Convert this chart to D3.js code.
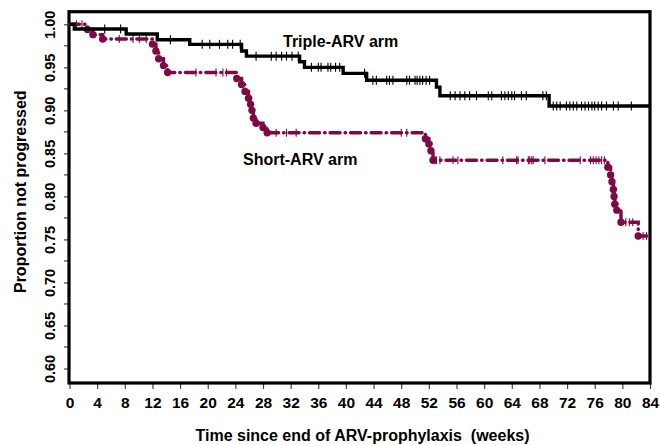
<!DOCTYPE html>
<html>
<head>
<meta charset="utf-8">
<script src="https://cdn.jsdelivr.net/npm/d3@7"></script>
<style>
  html, body { margin: 0; padding: 0; background: #fff; }
  svg { display: block; font-family: "Liberation Sans", Arial, sans-serif; font-weight: bold; }
</style>
</head>
<body>
<svg id="chart" width="660" height="445"></svg>
<script>
// Kaplan-Meier steps: time (weeks) and proportion after the step
const tripleTimes = [0, 0.7, 8.2, 12.7, 17.4, 24.9, 25.6, 33.3, 34.0, 39.6, 43.0, 53.1, 53.6, 69.4, 84];
const tripleSurv = [1.000, 0.9945, 0.9887, 0.982, 0.9767, 0.969, 0.963, 0.9565, 0.950, 0.943, 0.935, 0.927, 0.917, 0.905, 0.905];

const shortTimes = [0, 2.6, 3.4, 4.8, 12.0, 12.5, 12.9, 13.6, 14.2, 24.2, 24.9, 25.4, 25.9, 26.2, 26.4, 26.6, 27.0, 28.0, 28.6,
  51.5, 52.0, 52.3, 52.6, 77.9, 78.3, 78.5, 78.7, 78.8, 78.9, 79.2, 79.8, 82.3, 84];
const shortSurv = [1.000, 0.994, 0.988, 0.983, 0.977, 0.969, 0.960, 0.952, 0.944, 0.937, 0.930, 0.922, 0.914, 0.907, 0.900, 0.891, 0.885, 0.880, 0.874,
  0.867, 0.861, 0.853, 0.842, 0.834, 0.825, 0.817, 0.808, 0.800, 0.791, 0.784, 0.770, 0.754, 0.754];

// censored observations (weeks)
const tripleCensor = [5.1, 7.4, 14.6, 19.2, 20.3, 21.7, 22.9, 23.6, 24.7, 27.0, 29.2, 29.9, 30.7, 31.4, 32.2, 33.1, 35.0, 36.0, 36.4, 37.4,
  37.8, 38.5, 39.1, 42.7, 43.9, 44.4, 45.9, 46.3, 46.8, 48.8, 49.2, 50.0, 50.3, 50.7, 51.1, 51.6, 52.1, 55.1, 55.8, 56.5, 57.2, 57.9,
  58.9, 60.6, 61.1, 62.5, 63.0, 63.5, 64.0, 64.4, 65.4, 66.1, 68.5, 69.0, 70.0, 70.5, 71.0, 71.9, 72.4, 72.9, 73.4, 74.1, 74.6, 75.1,
  75.6, 76.0, 76.5, 77.0, 77.7, 78.7, 79.4, 81.3];
const shortCensor = [1.0, 1.8, 7.2, 9.2, 10.1, 11.1, 18.3, 21.2, 22.2, 22.7, 29.9, 31.4, 32.8, 48.0, 48.8, 52.9, 53.1, 53.6, 55.5, 56.2,
  62.7, 64.7, 64.9, 66.4, 66.6, 66.9, 67.1, 68.8, 73.9, 75.4, 75.8, 76.2, 76.6, 77.0, 77.4, 80.5, 81.0, 81.5, 83.0, 83.5];

const xTicks = d3.range(0, 85, 4);
const yTicksMajor = [0.60, 0.65, 0.70, 0.75, 0.80, 0.85, 0.90, 0.95, 1.00];
const yTicksMinor = [0.625, 0.675, 0.725, 0.775, 0.825, 0.875, 0.925, 0.975];

const maroon = "#7d0a45";

const svg = d3.select("#chart");

const x = d3.scaleLinear().domain([0, 84]).range([69.5, 650]);
const y = d3.scaleLinear().domain([0.6, 1.0]).range([368.5, 24.3]);

const plotTop = 11.7;
const plotBottom = 383;

function levelAt(times, surv, t) {
  let v = surv[0];
  for (let i = 0; i < times.length; i++) {
    if (times[i] <= t) v = surv[i];
  }
  return v;
}

function stepPoints(times, surv) {
  return times.map(function (t, i) { return [t, surv[i]]; });
}

// axes
const xAxis = svg.append("g")
  .attr("transform", `translate(0,${plotBottom})`)
  .call(d3.axisBottom(x).tickValues(xTicks).tickSize(6).tickPadding(8).tickFormat(d3.format("d")));
xAxis.select(".domain").remove();
xAxis.selectAll("line").attr("stroke", "#444").attr("stroke-width", 1.2);
xAxis.selectAll("text").attr("font-size", 15.5).attr("font-family", "Liberation Sans, Arial, sans-serif")
  .attr("font-weight", "bold").attr("fill", "#000");

const yAxis = svg.append("g")
  .attr("transform", "translate(69,0)")
  .call(d3.axisLeft(y).tickValues(yTicksMajor).tickSize(5).tickFormat(d3.format(".2f")));
yAxis.select(".domain").remove();
yAxis.selectAll("line").attr("stroke", "#444").attr("stroke-width", 1.2);
yAxis.selectAll("text")
  .attr("font-size", 14.5).attr("font-family", "Liberation Sans, Arial, sans-serif").attr("font-weight", "bold").attr("fill", "#000")
  .attr("x", null).attr("dy", null)
  .attr("text-anchor", "middle")
  .attr("transform", "translate(-14.5,0) rotate(-90)");

svg.append("g")
  .selectAll("line")
  .data(yTicksMinor)
  .enter()
  .append("line")
  .attr("x1", 64).attr("x2", 69)
  .attr("y1", function (d) { return y(d); })
  .attr("y2", function (d) { return y(d); })
  .attr("stroke", "#444").attr("stroke-width", 1.2);

// frame
svg.append("rect")
  .attr("x", 69).attr("y", plotTop)
  .attr("width", 650 - 69).attr("height", plotBottom - plotTop)
  .attr("fill", "none").attr("stroke", "#000").attr("stroke-width", 3.2);

const line = d3.line()
  .x(function (d) { return x(d[0]); })
  .y(function (d) { return y(d[1]); })
  .curve(d3.curveStepAfter);

// Short-ARV arm
svg.append("path")
  .datum(stepPoints(shortTimes, shortSurv))
  .attr("d", line)
  .attr("fill", "none")
  .attr("stroke", maroon)
  .attr("stroke-width", 3.4)
  .attr("stroke-linecap", "round")
  .attr("stroke-dasharray", "10,5,0.5,5");

svg.append("g")
  .selectAll("circle")
  .data(stepPoints(shortTimes, shortSurv).slice(1, -1))
  .enter()
  .append("circle")
  .attr("cx", function (d) { return x(d[0]); })
  .attr("cy", function (d) { return y(d[1]); })
  .attr("r", 3.7)
  .attr("fill", maroon);

svg.append("g")
  .selectAll("line")
  .data(shortCensor)
  .enter()
  .append("line")
  .attr("x1", function (d) { return x(d); })
  .attr("x2", function (d) { return x(d); })
  .attr("y1", function (d) { return y(levelAt(shortTimes, shortSurv, d)) - 4; })
  .attr("y2", function (d) { return y(levelAt(shortTimes, shortSurv, d)) + 4; })
  .attr("stroke", maroon)
  .attr("stroke-width", 1.1);

// Triple-ARV arm
svg.append("path")
  .datum(stepPoints(tripleTimes, tripleSurv))
  .attr("d", line)
  .attr("fill", "none")
  .attr("stroke", "#000")
  .attr("stroke-width", 3.4);

svg.append("g")
  .selectAll("line")
  .data(tripleCensor)
  .enter()
  .append("line")
  .attr("x1", function (d) { return x(d); })
  .attr("x2", function (d) { return x(d); })
  .attr("y1", function (d) { return y(levelAt(tripleTimes, tripleSurv, d)) - 4.5; })
  .attr("y2", function (d) { return y(levelAt(tripleTimes, tripleSurv, d)) + 4.5; })
  .attr("stroke", "#000")
  .attr("stroke-width", 1.1);

// labels
svg.append("text")
  .attr("x", 283).attr("y", 47)
  .attr("font-size", 16)
  .text("Triple-ARV arm");

svg.append("text")
  .attr("x", 243).attr("y", 165)
  .attr("font-size", 16)
  .text("Short-ARV arm");

svg.append("text")
  .attr("x", 362.5).attr("y", 441)
  .attr("text-anchor", "middle")
  .attr("font-size", 16)
  .style("white-space", "pre")
  .text("Time since end of ARV-prophylaxis  (weeks)");

svg.append("text")
  .attr("transform", "translate(26,191.7) rotate(-90)")
  .attr("text-anchor", "middle")
  .attr("font-size", 16)
  .text("Proportion not progressed");
</script>
</body>
</html>
